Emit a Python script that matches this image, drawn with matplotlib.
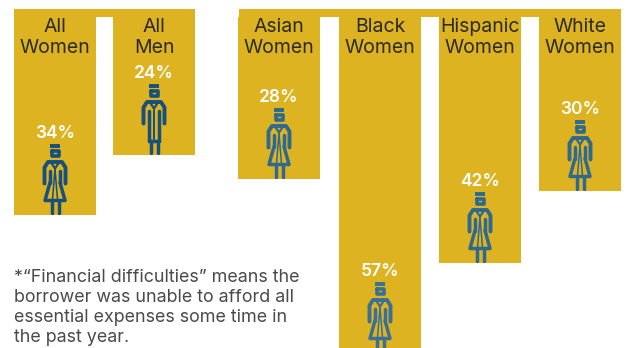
"""Share of borrowers reporting financial difficulties, by group."""

import matplotlib
matplotlib.use('Agg')
import matplotlib.pyplot as plt

# DATA
groups = ['All\nWomen', 'All\nMen', 'Asian\nWomen', 'Black\nWomen', 'Hispanic\nWomen', 'White\nWomen']
shares = [34, 24, 28, 57, 42, 30]
is_woman = [True, False, True, True, True, True]
footnote = ('*“Financial difficulties” means the\n'
            'borrower was unable to afford all\n'
            'essential expenses some time in\n'
            'the past year.')

GOLD = '#DDB322'
ICON_COLORS = ['#17507C', '#17507C', '#2F6A8E', '#3A7094', '#2F6A8E', '#2F6A8E']
BAR_LEFT = [14, 113, 238, 339, 439, 539]
BAR_W = 82
PX_PER_PCT = 6.0
ZERO_PX = 11

plt.rcParams['font.family'] = ['Inter', 'DejaVu Sans']

W, H = 626, 348
fig = plt.figure(figsize=(W / 100, H / 100), dpi=100)
ax = fig.add_axes([0, 0, 1, 1])
ax.set_xlim(0, W)
ax.set_ylim((H - ZERO_PX) / PX_PER_PCT, -ZERO_PX / PX_PER_PCT)
ax.axis('off')


def px(y):
    """Vertical pixel position from the top, in axis units."""
    return (y - ZERO_PX) / PX_PER_PCT


def figure_icon(ax, cx, end, woman, color):
    """Graduate outline; offsets in pixels from the foot of the figure."""
    foot = end - 1.5 / PX_PER_PCT

    def line(xs, ys, lw=2.5, cap='round'):
        ax.plot([cx + x for x in xs], [foot - y / PX_PER_PCT for y in ys], color=color,
                lw=lw, solid_capstyle=cap, solid_joinstyle='round')

    # cap and head
    line([-5, 5], [67.5, 67.5], 2.8, 'butt')
    line([-3.5, -3.5, 3.5, 3.5, -3.5], [63, 58, 58, 63, 63], 2.6)
    # shoulders and arms
    line([-10.5, -10.5, -7, 7, 10.5, 10.5], [30, 46, 51.5, 51.5, 46, 30], 2.8)
    line([-4, 0, 4], [51, 45, 51], 1.6)
    # inner sleeves
    line([-5, -5], [43, 31 if woman else 13], 2.5)
    line([5, 5], [43, 31 if woman else 13], 2.5)
    if woman:
        # flared skirt
        line([-5, -10, 10, 5], [31, 13, 13, 31], 2.5)
        line([0, -2.5], [44, 14], 1.1)
        line([0, 2.5], [44, 14], 1.1)
    else:
        line([-5, 5], [13, 13], 2.5)
        line([0, 0], [44, 14], 1.4)
    # legs
    line([-3.5, -3.5], [13, 1], 2.5)
    line([3.5, 3.5], [13, 1], 2.5)


# gold strips joining the tops of the bars
ax.barh(px(13), 181, height=8 / PX_PER_PCT, left=14, color=GOLD, lw=0)
ax.barh(px(13), 382, height=8 / PX_PER_PCT, left=239, color=GOLD, lw=0)

for left, group, share, woman, icon_color in zip(BAR_LEFT, groups, shares, is_woman, ICON_COLORS):
    ax.bar(left, share - px(17), width=BAR_W, bottom=px(17), align='edge', color=GOLD, lw=0)
    cx = left + BAR_W / 2
    ax.text(cx, px(37.5), group, ha='center', va='center', fontsize=14, color='#2B2A25', linespacing=1.27)
    ax.text(cx, share - 82 / PX_PER_PCT, f'{share}%', ha='center', va='center', fontsize=12.5,
            fontweight='semibold', color='white')
    figure_icon(ax, cx, share, woman, icon_color)

ax.text(14, px(269), footnote, ha='left', va='top', fontsize=12.9,
        color='#4A4A4A', linespacing=1.24)

fig.savefig('out.png', dpi=100)
